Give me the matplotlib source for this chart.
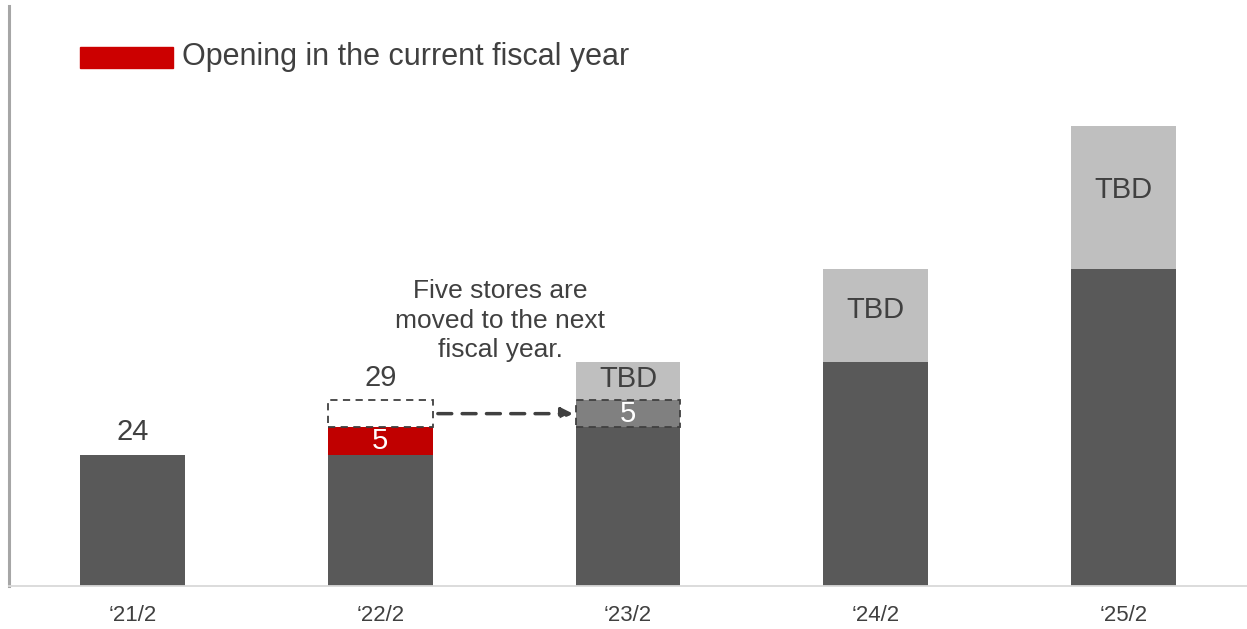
import matplotlib
matplotlib.use("Agg")
import matplotlib.pyplot as plt
from matplotlib.patches import Rectangle

plt.rcParams["font.family"] = ["Liberation Sans", "DejaVu Sans"]

# data
years = ["\u201821/2", "\u201822/2", "\u201823/2", "\u201824/2", "\u201825/2"]
existing = [24, 24, 29, 41, 58]
opening = [0, 5, 0, 0, 0]
moved = [0, 5, 5, 0, 0]          # dashed boxes (bar 2: moved-out slot, bar 3: moved-in)
tbd = [0, 0, 7, 17, 26]
top_labels = {0: "24", 1: "29"}

DARK = "#595959"
LIGHT = "#bfbfbf"
RED = "#c00000"
MID = "#808080"
TXT = "#404040"

fig = plt.figure(figsize=(12.47, 6.29), dpi=100)
ax = fig.add_axes([9 / 1247, 43 / 629, 1238 / 1247, 580 / 629])

x = list(range(len(years)))
w = 0.424

ax.bar(x, existing, width=w, color=DARK, zorder=2)
bottom2 = [e + o for e, o in zip(existing, opening)]
ax.bar(x, opening, width=w, bottom=existing, color=RED, zorder=2)

moved_colors = ["none", "white", MID, "none", "none"]
bottom3 = [b + m for b, m in zip(bottom2, moved)]
for i in x:
    if moved[i]:
        ax.bar(i, moved[i], width=w, bottom=bottom2[i], color=moved_colors[i],
               edgecolor=TXT, linestyle=(0, (4, 3)), linewidth=1.3, zorder=3)
ax.bar(x, tbd, width=w, bottom=bottom3, color=LIGHT, zorder=2)

# texts inside bars
for i in x:
    if opening[i]:
        ax.text(i, existing[i] + opening[i] / 2, str(opening[i]), ha="center", va="center",
                color="white", fontsize=21, zorder=4)
    if moved[i] and moved_colors[i] == MID:
        ax.text(i, bottom2[i] + moved[i] / 2, str(moved[i]), ha="center", va="center",
                color="white", fontsize=21, zorder=4)
    if tbd[i]:
        ax.text(i, bottom3[i] + tbd[i] / 2 + tbd[i] * 0.05, "TBD", ha="center", va="center",
                color=TXT, fontsize=21, zorder=4)

for i, lab in top_labels.items():
    ax.text(i, bottom3[i] + 1.5, lab, ha="center", va="bottom", color=TXT, fontsize=21)

# arrow showing the moved stores
ax.annotate("", xy=(2 - w / 2 - 0.01, 31.5), xytext=(1 + w / 2 + 0.02, 31.5),
            arrowprops=dict(arrowstyle="-|>", color=TXT, lw=2.5, linestyle=(0, (4, 3)),
                            mutation_scale=17, shrinkA=0, shrinkB=0))
ax.text(1.483, 48.5, "Five stores are\nmoved to the next\nfiscal year.", ha="center", va="center",
        color=TXT, fontsize=19, linespacing=1.3)

ax.set_xlim(-0.5, 4.5)
ax.set_ylim(0, 106)
ax.set_xticks(x)
ax.set_xticklabels(years, fontsize=16, color=TXT)
ax.tick_params(axis="x", length=0, pad=14)
ax.set_yticks([])
for s in ["top", "right"]:
    ax.spines[s].set_visible(False)
ax.spines["left"].set_color("#a6a6a6")
ax.spines["left"].set_linewidth(2.2)
ax.spines["bottom"].set_color("#d9d9d9")
ax.spines["bottom"].set_linewidth(1.3)

# legend
fig.patches.append(Rectangle((80 / 1247, 1 - 68 / 629), 93 / 1247, 21 / 629,
                             transform=fig.transFigure, color="#cc0000"))
fig.text(182 / 1247, 1 - 57 / 629, "Opening in the current fiscal year", ha="left", va="center",
         fontsize=22, color=TXT)

fig.savefig("out.png", dpi=100)
